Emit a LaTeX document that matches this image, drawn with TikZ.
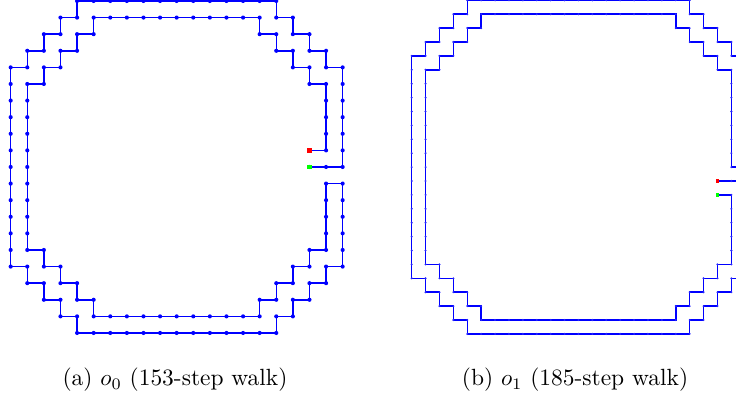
\documentclass[tikz,border=0pt]{standalone}
\usetikzlibrary{decorations.markings}
\begin{document}
\begin{tikzpicture}[
  walk/.style={blue, line width=0.65pt},
  sitesA/.style={postaction={decorate, decoration={markings, mark=between positions 0 and 1 step 7.217pt with {\fill[blue] (0,0) circle (0.9pt);}}}},
  sitesB/.style={postaction={decorate, decoration={markings, mark=between positions 0 and 1 step 6.043pt with {\fill[blue!85] (0,0) circle (0.5pt);}}}},
  endA/.style={rectangle, inner sep=0pt, minimum size=2pt},
  endB/.style={rectangle, inner sep=0pt, minimum size=1.4pt},
  caption/.style={anchor=base, inner sep=0pt, font=\fontsize{10.2}{12}\selectfont}]

\useasboundingbox (0,0) rectangle (320pt,-173.04pt);

% (a) o_0
\begin{scope}[shift={(4.64pt,-0.43pt)}, x=7.217pt, y=-7.217pt]
\draw[walk, sitesA] (18,9) -- (19,9) -- (19,5) -- (18,5) -- (18,4) -- (17,4) -- (17,3) -- (16,3) -- (16,2) -- (15,2) -- (15,1) -- (5,1)
  -- (5,2) -- (4,2) -- (4,3) -- (3,3) -- (3,4) -- (2,4) -- (2,5) -- (1,5) -- (1,15)
  -- (2,15) -- (2,16) -- (3,16) -- (3,17) -- (4,17) -- (4,18) -- (5,18) -- (5,19) -- (15,19)
  -- (15,18) -- (16,18) -- (16,17) -- (17,17) -- (17,16) -- (18,16) -- (18,15) -- (19,15) -- (19,11)
  -- (20,11) -- (20,16) -- (19,16) -- (19,17) -- (18,17) -- (18,18) -- (17,18) -- (17,19) -- (16,19) -- (16,20) -- (4,20)
  -- (4,19) -- (3,19) -- (3,18) -- (2,18) -- (2,17) -- (1,17) -- (1,16) -- (0,16) -- (0,4)
  -- (1,4) -- (1,3) -- (2,3) -- (2,2) -- (3,2) -- (3,1) -- (4,1) -- (4,0) -- (16,0)
  -- (16,1) -- (17,1) -- (17,2) -- (18,2) -- (18,3) -- (19,3) -- (19,4) -- (20,4) -- (20,10) -- (18,10);
\node[endA, fill=red] (startA) at (18,9) {};
\node[endA, fill=green] (stopA) at (18,10) {};
\end{scope}

% (b) o_1
\begin{scope}[shift={(178.99pt,-0.14pt)}, x=6.043pt, y=-6.043pt]
\draw[walk, sitesB] (22,13) -- (24,13) -- (24,20) -- (23,20) -- (23,21) -- (22,21) -- (22,22) -- (21,22) -- (21,23) -- (20,23) -- (20,24) -- (4,24)
  -- (4,23) -- (3,23) -- (3,22) -- (2,22) -- (2,21) -- (1,21) -- (1,20) -- (0,20) -- (0,4)
  -- (1,4) -- (1,3) -- (2,3) -- (2,2) -- (3,2) -- (3,1) -- (4,1) -- (4,0) -- (20,0)
  -- (20,1) -- (21,1) -- (21,2) -- (22,2) -- (22,3) -- (23,3) -- (23,4) -- (24,4) -- (24,12)
  -- (23,12) -- (23,5) -- (22,5) -- (22,4) -- (21,4) -- (21,3) -- (20,3) -- (20,2) -- (19,2) -- (19,1) -- (5,1)
  -- (5,2) -- (4,2) -- (4,3) -- (3,3) -- (3,4) -- (2,4) -- (2,5) -- (1,5) -- (1,19)
  -- (2,19) -- (2,20) -- (3,20) -- (3,21) -- (4,21) -- (4,22) -- (5,22) -- (5,23) -- (19,23)
  -- (19,22) -- (20,22) -- (20,21) -- (21,21) -- (21,20) -- (22,20) -- (22,19) -- (23,19) -- (23,14) -- (22,14);
\node[endB, fill=red] (startB) at (22,13) {};
\node[endB, fill=green] (stopB) at (22,14) {};
\end{scope}

\node[caption] (capA) at (76.1pt,-167.7pt) {(a) $o_0$ (153-step walk)};
\node[caption] (capB) at (250pt,-167.7pt) {(b) $o_1$ (185-step walk)};

\end{tikzpicture}
\end{document}
